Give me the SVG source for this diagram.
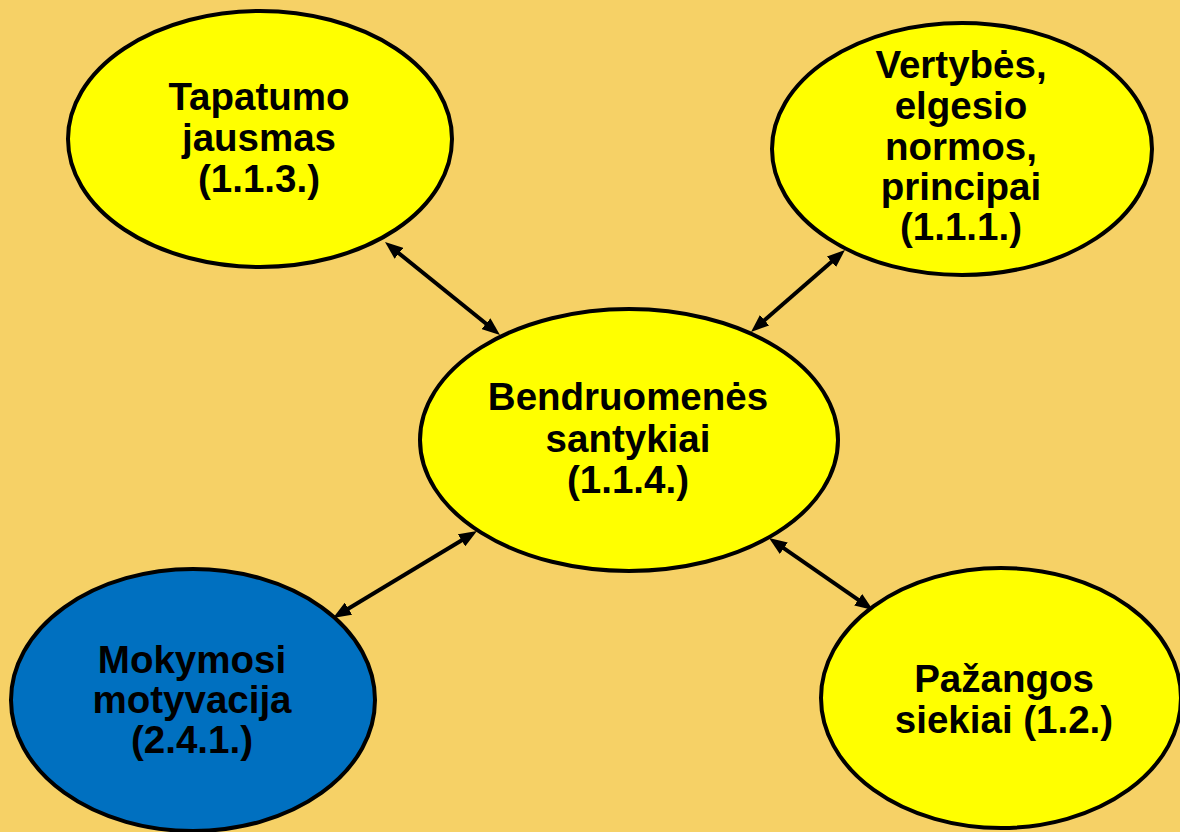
<svg xmlns="http://www.w3.org/2000/svg" width="1180" height="832" viewBox="0 0 1180 832">
<style>
.node ellipse{stroke:#000;stroke-width:4}
.y{fill:#FFFF00}
.b{fill:#0070C0}
.node text{font-family:"Liberation Sans",Arial,sans-serif;font-weight:bold;font-size:38.5px;fill:#000;text-anchor:middle}
.conn line{stroke:#000;stroke-width:4;marker-start:url(#ah);marker-end:url(#ah)}
</style>
<defs>
<marker id="ah" viewBox="0 0 18 14" markerWidth="18" markerHeight="14" refX="9" refY="7" orient="auto-start-reverse" markerUnits="userSpaceOnUse">
<path d="M0,0 L18,7 L0,14 z" fill="#000"/>
</marker>
</defs>
<rect width="1180" height="832" fill="#F6D166"/>
<g id="connectors" class="conn">
<line x1="392" y1="247.7" x2="493" y2="329.3"/>
<line x1="838.2" y1="255.9" x2="757.8" y2="326.1"/>
<line x1="469.3" y1="535.7" x2="340.7" y2="613.3"/>
<line x1="776.4" y1="543.1" x2="865.6" y2="604.9"/>
</g>
<g id="tapatumo" class="node">
<ellipse class="y" cx="260" cy="139" rx="192" ry="128"/>
<text x="259" y="110">Tapatumo</text>
<text x="259" y="151">jausmas</text>
<text x="259" y="192">(1.1.3.)</text>
</g>
<g id="vertybes" class="node">
<ellipse class="y" cx="962" cy="149" rx="190" ry="126"/>
<text x="961" y="78">Vertybės,</text>
<text x="961" y="119">elgesio</text>
<text x="961" y="160">normos,</text>
<text x="961" y="200">principai</text>
<text x="961" y="240">(1.1.1.)</text>
</g>
<g id="bendruomenes" class="node">
<ellipse class="y" cx="629" cy="440" rx="209" ry="131"/>
<text x="628" y="410">Bendruomenės</text>
<text x="628" y="452">santykiai</text>
<text x="628" y="493">(1.1.4.)</text>
</g>
<g id="mokymosi" class="node">
<ellipse class="b" cx="193" cy="700" rx="182" ry="131"/>
<text x="192" y="673">Mokymosi</text>
<text x="192" y="713">motyvacija</text>
<text x="192" y="753">(2.4.1.)</text>
</g>
<g id="pazangos" class="node">
<ellipse class="y" cx="1001" cy="698" rx="180" ry="130"/>
<text x="1004" y="692">Pažangos</text>
<text x="1004" y="733">siekiai (1.2.)</text>
</g>
</svg>
